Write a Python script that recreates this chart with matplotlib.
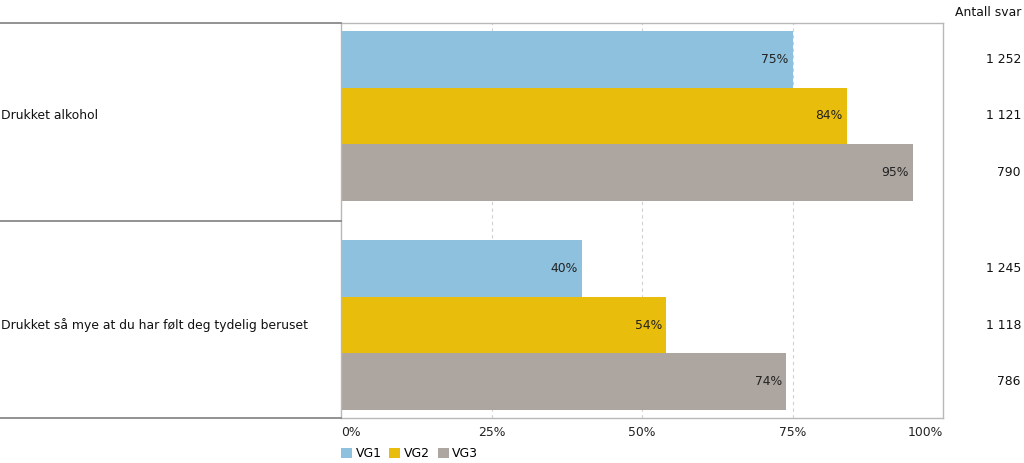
import matplotlib.pyplot as plt
from matplotlib.lines import Line2D
from matplotlib.patches import Patch
import matplotlib.transforms as mtransforms

categories = ["Drukket alkohol", "Drukket så mye at du har følt deg tydelig beruset"]
series = ["VG1", "VG2", "VG3"]
values = [[75, 84, 95], [40, 54, 74]]
counts = [["1 252", "1 121", "790"], ["1 245", "1 118", "786"]]
xticks = [0, 25, 50, 75, 100]
xtick_labels = ["0%", "25%", "50%", "75%", "100%"]
colors = ["#8dc1de", "#e9bd0b", "#ada59f"]

plt.rcParams['font.family'] = ['DejaVu Sans']
fs = 8.9

fig = plt.figure(figsize=(10.24, 4.63), dpi=100)
W, H = 1024, 463
ax = fig.add_axes([341 / W, (H - 418) / H, 602 / W, 395 / H])

bar_h = 0.286
shift = [-0.03, 0.03]
for i, cat in enumerate(categories):
    for k, s in enumerate(series):
        y = i + shift[i] + (k - 1) * bar_h
        v = values[i][k]
        ax.barh(y, v, height=bar_h, color=colors[k], edgecolor='none', zorder=2)
        ax.text(v - 0.7, y, f"{v}%", ha='right', va='center', fontsize=fs, color='#222222', zorder=3)

ax.set_xlim(0, 100)
ax.set_ylim(1.5, -0.5)
ax.set_yticks([])
ax.set_xticks(xticks)
ax.set_xticklabels(xtick_labels, fontsize=fs, color='#222222')
lbls = ax.get_xticklabels()
lbls[0].set_ha('left')
lbls[-1].set_ha('right')
ax.tick_params(axis='x', length=0, pad=6)
for x in xticks[1:-1]:
    ax.axvline(x, color='#d0d0d0', linestyle=(0, (3, 3)), linewidth=0.8, zorder=1)
for sp in ax.spines.values():
    sp.set_color('#b8b8b8')
    sp.set_linewidth(1)

# left table with row labels
tr = mtransforms.blended_transform_factory(fig.transFigure, ax.transData)
for yb in [-0.5, 0.5, 1.5]:
    fig.add_artist(Line2D([0, 341 / W], [yb, yb], transform=tr, color='#7f7f7f', linewidth=1.2))
for i, cat in enumerate(categories):
    fig.text(1 / W, i + shift[i], cat, transform=tr, ha='left', va='center', fontsize=fs, color='#111111')

# answer counts on the right
fig.text(1021 / W, 1 - 12 / H, "Antall svar", ha='right', va='center', fontsize=fs, color='#111111')
for i in range(len(categories)):
    for k in range(len(series)):
        y = i + shift[i] + (k - 1) * bar_h
        fig.text(1021 / W, y, counts[i][k], transform=tr, ha='right', va='center', fontsize=fs, color='#111111')

handles = [Patch(facecolor=c, edgecolor='none') for c in colors]
fig.legend(handles, series, loc='lower left', bbox_to_anchor=(341 / W, 3 / H), ncol=3, frameon=False,
           fontsize=fs, handlelength=0.9, handleheight=0.9, handletextpad=0.3, columnspacing=0.6,
           borderpad=0, borderaxespad=0)

fig.savefig("out.png", dpi=100)
